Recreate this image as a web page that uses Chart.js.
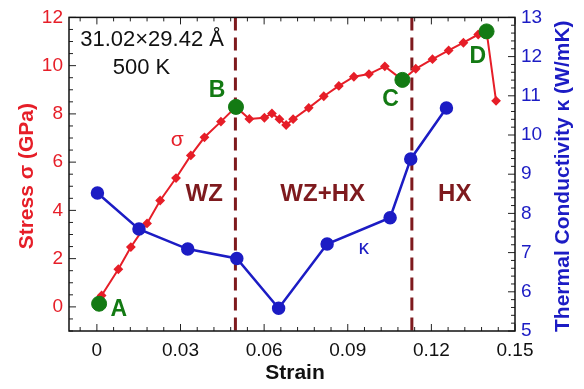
<!DOCTYPE html>
<html>
<head>
<meta charset="utf-8">
<script src="https://cdn.jsdelivr.net/npm/chart.js@4/dist/chart.umd.min.js"></script>
<style>
  html, body { margin: 0; padding: 0; background: #fff; }
  #chart { display: block; }
</style>
</head>
<body>
<canvas id="chart" width="584" height="389"></canvas>
<script>
// stress-strain curve (left axis)
const stressStrain = [0.0017, 0.0077, 0.0122, 0.018, 0.0227, 0.0284, 0.0337, 0.0386, 0.0445, 0.0499,
    0.0547, 0.0601, 0.0628, 0.0655, 0.0679, 0.0704, 0.076, 0.0814, 0.0868, 0.0922, 0.0976, 0.1033,
    0.1096, 0.1144, 0.1204, 0.1262, 0.1315, 0.1368, 0.1398, 0.1432];
const stressValues = [0.47, 1.56, 2.48, 3.46, 4.41, 5.34, 6.28, 7.03, 7.68, 8.29,
    7.79, 7.84, 8.02, 7.78, 7.54, 7.78, 8.25, 8.73, 9.16, 9.54, 9.65, 9.97,
    9.41, 9.87, 10.27, 10.63, 10.95, 11.29, 11.42, 8.54];

// thermal conductivity (right axis)
const kappaStrain = [0.0002, 0.0151, 0.0326, 0.0502, 0.0652, 0.0826, 0.1052, 0.1126, 0.1254];
const kappaValues = [8.52, 7.60, 7.09, 6.85, 5.58, 7.22, 7.89, 9.39, 10.69];

// marked states A-D
const pointLabels = ['A', 'B', 'C', 'D'];
const pointStrain = [0.0008, 0.0499, 0.1096, 0.1398];
const pointStress = [0.13, 8.29, 9.41, 11.42];

// phase boundaries and phase names
const phaseBoundaries = [0.0497, 0.113];
const phaseNames = ['WZ', 'WZ+HX', 'HX'];
const phaseCenters = [0.0385, 0.081, 0.1284];

// ticks
const xTicks = [0, 0.03, 0.06, 0.09, 0.12, 0.15];
const xTickLabels = ['0', '0.03', '0.06', '0.09', '0.12', '0.15'];
const stressTicks = [0, 2, 4, 6, 8, 10, 12];
const kappaTicks = [5, 6, 7, 8, 9, 10, 11, 12, 13];

const RED = '#e61e28';
const BLUE = '#1c1cc4';
const GREEN = '#137a13';
const DARKRED = '#7e1a1e';
const FONT = '"Liberation Sans", Arial, sans-serif';

function zip(xs, ys) {
    return xs.map((x, i) => ({ x: x, y: ys[i] }));
}

// inward ticks, box, dashed lines and text
const decorPlugin = {
    id: 'decor',
    beforeDatasetsDraw(chart) {
        const ctx = chart.ctx;
        const a = chart.chartArea;
        const x = chart.scales.x;
        ctx.save();
        ctx.strokeStyle = DARKRED;
        ctx.lineWidth = 3;
        ctx.setLineDash([13, 7]);
        phaseBoundaries.forEach(v => {
            const px = x.getPixelForValue(v);
            ctx.beginPath();
            ctx.moveTo(px, a.top);
            ctx.lineTo(px, a.bottom);
            ctx.stroke();
        });
        ctx.restore();
    },
    afterDraw(chart) {
        const ctx = chart.ctx;
        const a = chart.chartArea;
        const x = chart.scales.x, y = chart.scales.y, y2 = chart.scales.y2;
        ctx.save();

        // minor / major ticks pointing inward
        ctx.strokeStyle = '#222';
        ctx.lineWidth = 1;
        function tick(x1, y1, x2, y2c) {
            ctx.beginPath();
            ctx.moveTo(x1, y1);
            ctx.lineTo(x2, y2c);
            ctx.stroke();
        }
        for (let i = -1; i <= 25; i++) {
            const v = i * 0.006;
            if (v < x.min - 1e-9 || v > x.max + 1e-9) continue;
            const px = x.getPixelForValue(v);
            const len = (i % 5 === 0) ? 7 : 4;
            tick(px, a.bottom, px, a.bottom - len);
            tick(px, a.top, px, a.top + len);
        }
        for (let i = -2; i <= 24; i++) {
            const v = i * 0.5;
            const py = y.getPixelForValue(v);
            const len = (i % 4 === 0) ? 7 : 4;
            tick(a.left, py, a.left + len, py);
        }
        for (let i = 0; i <= 40; i++) {
            const v = 5 + i * 0.2;
            const py = y2.getPixelForValue(v);
            const len = (i % 5 === 0) ? 7 : 4;
            tick(a.right, py, a.right - len, py);
        }

        // frame
        ctx.lineWidth = 1.5;
        ctx.strokeStyle = '#111';
        ctx.strokeRect(a.left, a.top, a.right - a.left, a.bottom - a.top);

        ctx.textAlign = 'center';
        ctx.textBaseline = 'middle';

        // system info
        ctx.fillStyle = '#111';
        ctx.font = '22px ' + FONT;
        ctx.fillText('31.02\u00d729.42 \u00c5', x.getPixelForValue(0.0198), y.getPixelForValue(11.08));
        ctx.fillText('500 K', x.getPixelForValue(0.016), y.getPixelForValue(9.9));

        // phase names
        ctx.fillStyle = DARKRED;
        ctx.font = 'bold 24px ' + FONT;
        phaseNames.forEach((n, i) => {
            ctx.fillText(n, x.getPixelForValue(phaseCenters[i]), y.getPixelForValue(4.67));
        });

        // series symbols
        ctx.font = '21px ' + FONT;
        ctx.fillStyle = RED;
        ctx.fillText('\u03c3', x.getPixelForValue(0.0288), y.getPixelForValue(6.93));
        ctx.fillStyle = BLUE;
        ctx.fillText('\u03ba', x.getPixelForValue(0.0957), y2.getPixelForValue(7.1));

        // state letters
        const letterPos = [[0.0079, -0.1], [0.0431, 8.96], [0.1054, 8.59], [0.1367, 10.39]];
        ctx.fillStyle = GREEN;
        ctx.font = 'bold 23px ' + FONT;
        pointLabels.forEach((l, i) => {
            ctx.fillText(l, x.getPixelForValue(letterPos[i][0]), y.getPixelForValue(letterPos[i][1]));
        });

        // axis titles
        ctx.font = 'bold 21px ' + FONT;
        ctx.fillStyle = '#111';
        ctx.fillText('Strain', (a.left + a.right) / 2 + 3, 373);

        ctx.save();
        ctx.translate(27, (a.top + a.bottom) / 2 + 2);
        ctx.rotate(-Math.PI / 2);
        ctx.fillStyle = RED;
        ctx.fillText('Stress \u03c3 (GPa)', 0, 0);
        ctx.restore();

        ctx.save();
        ctx.translate(563, (a.top + a.bottom) / 2 + 2);
        ctx.rotate(-Math.PI / 2);
        ctx.fillStyle = BLUE;
        ctx.fillText('Thermal Conductivity \u03ba (W/mK)', 0, 0);
        ctx.restore();

        ctx.restore();
    }
};

const ctx = document.getElementById('chart').getContext('2d');
const chart = new Chart(ctx, {
    type: 'line',
    data: {
        datasets: [{
            label: 'states',
            data: zip(pointStrain, pointStress),
            yAxisID: 'y',
            showLine: false,
            pointRadius: 7.5,
            pointBackgroundColor: GREEN,
            pointBorderColor: GREEN
        }, {
            label: 'kappa',
            data: zip(kappaStrain, kappaValues),
            yAxisID: 'y2',
            borderColor: BLUE,
            borderWidth: 2.5,
            pointRadius: 5.5,
            pointBackgroundColor: BLUE,
            pointBorderColor: BLUE,
            tension: 0
        }, {
            label: 'stress',
            data: zip(stressStrain, stressValues),
            yAxisID: 'y',
            borderColor: RED,
            borderWidth: 2,
            pointStyle: 'rectRot',
            pointRadius: 3.5,
            pointBackgroundColor: RED,
            pointBorderColor: RED,
            tension: 0
        }]
    },
    options: {
        responsive: false,
        animation: false,
        layout: { padding: { top: 12, left: 0, right: 0, bottom: 0 } },
        plugins: {
            legend: { display: false },
            tooltip: { enabled: false }
        },
        scales: {
            x: {
                type: 'linear',
                min: -0.01,
                max: 0.15,
                grid: { display: false, drawTicks: false },
                border: { display: false },
                afterBuildTicks: s => { s.ticks = xTicks.map(v => ({ value: v })); },
                afterFit: s => { s.height = 58; },
                ticks: {
                    padding: 8,
                    color: '#111',
                    font: { family: FONT, size: 19 },
                    maxRotation: 0,
                    autoSkip: false,
                    callback: (v) => xTickLabels[xTicks.indexOf(v)] ?? ''
                }
            },
            y: {
                position: 'left',
                min: -1,
                max: 12,
                grid: { display: false, drawTicks: false },
                border: { display: false },
                afterBuildTicks: s => { s.ticks = stressTicks.map(v => ({ value: v })); },
                afterFit: s => { s.width = 69; },
                ticks: {
                    padding: 6,
                    color: RED,
                    font: { family: FONT, size: 19 },
                    autoSkip: false
                }
            },
            y2: {
                position: 'right',
                min: 5,
                max: 13,
                grid: { display: false, drawTicks: false },
                border: { display: false },
                afterBuildTicks: s => { s.ticks = kappaTicks.map(v => ({ value: v })); },
                afterFit: s => { s.width = 69; },
                ticks: {
                    padding: 6,
                    color: BLUE,
                    font: { family: FONT, size: 19 },
                    autoSkip: false
                }
            }
        }
    },
    plugins: [decorPlugin]
});
</script>
</body>
</html>
